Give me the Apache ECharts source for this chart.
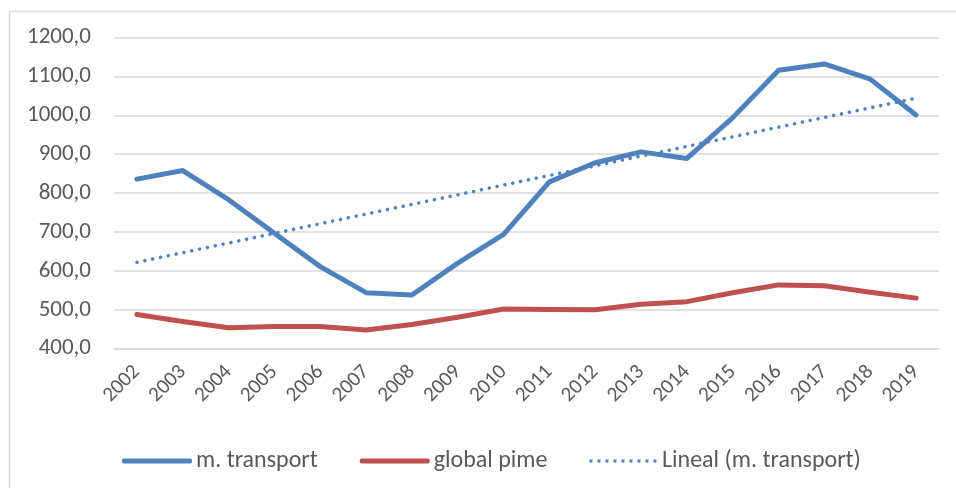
<!DOCTYPE html>
<html>
<head>
<meta charset="utf-8">
<script src="https://cdn.jsdelivr.net/npm/echarts@6/dist/echarts.min.js"></script>
<style>
html,body{margin:0;padding:0;background:#fff;}
#c{width:956px;height:488px;}
</style>
</head>
<body>
<div id="c"></div>
<script>
const years = ['2002','2003','2004','2005','2006','2007','2008','2009','2010','2011','2012','2013','2014','2015','2016','2017','2018','2019'];
const transport = [836, 858, 783, 697, 611, 544, 538, 620, 694, 829, 878, 906, 889, 994, 1116, 1132, 1093, 1001];
const globalPime = [488, 470, 454, 457, 457, 448, 462, 481, 502, 501, 500, 514, 521, 544, 564, 562, 545, 530];
const trendStart = 622;   // Lineal (m. transport) at 2002
const trendEnd = 1044;    // Lineal (m. transport) at 2019
const yTicks = { min: 400, max: 1200, step: 100 };

const trend = years.map((y, i) => i === 0 ? trendStart : (i === years.length - 1 ? trendEnd : null));

const BLUE = '#4F81BD', RED = '#C0504D';
const FONT = 'Carlito, Lato, "Liberation Sans", sans-serif';
// dotted legend sample: 9 dots
let dots = '';
for (let k = 0; k < 9; k++) { dots += 'M' + (k * 8) + ',0h3v3h-3z'; }

const chart = echarts.init(document.getElementById('c'), null, {renderer: 'canvas'});
chart.setOption({
  animation: false,
  backgroundColor: '#ffffff',
  graphic: [{
    type: 'rect', left: 7, top: 9, z: -10,
    shape: {width: 1000, height: 1000},
    style: {fill: 'none', stroke: '#d9d9d9', lineWidth: 1.5}
  }],
  grid: {left: 114, right: 17, top: 37.5, bottom: 139.3, containLabel: false},
  legend: {
    top: 444, left: 117,
    itemWidth: 68, itemHeight: 3, itemGap: 42,
    textStyle: {color: '#595959', fontSize: 24, fontFamily: FONT},
    data: [
      {name: 'm. transport', icon: 'roundRect', itemStyle: {color: BLUE, borderColor: BLUE, borderWidth: 2}},
      {name: 'global pime', icon: 'roundRect', itemStyle: {color: RED, borderColor: RED, borderWidth: 2}},
      {name: 'Lineal (m. transport)', icon: 'path://' + dots, itemStyle: {color: BLUE, borderWidth: 0}}
    ]
  },
  xAxis: {
    type: 'category', data: years, boundaryGap: true,
    axisLine: {show: true, lineStyle: {color: '#d9d9d9', width: 1.5}},
    axisTick: {show: false},
    axisLabel: {rotate: 45, color: '#595959', fontSize: 21, fontFamily: FONT, margin: 20, interval: 0}
  },
  yAxis: {
    type: 'value', min: yTicks.min, max: yTicks.max, interval: yTicks.step,
    axisLine: {show: false}, axisTick: {show: false},
    splitLine: {lineStyle: {color: '#d9d9d9', width: 1.5}},
    axisLabel: {color: '#595959', fontSize: 23, fontFamily: FONT, margin: 23,
      formatter: v => v.toFixed(1).replace('.', ',')}
  },
  series: [
    {name: 'm. transport', type: 'line', data: transport, symbol: 'none', showSymbol: false,
      lineStyle: {color: BLUE, width: 5, cap: 'round', join: 'round'}, itemStyle: {color: BLUE}},
    {name: 'global pime', type: 'line', data: globalPime, symbol: 'none', showSymbol: false,
      lineStyle: {color: RED, width: 5, cap: 'round', join: 'round'}, itemStyle: {color: RED}},
    {name: 'Lineal (m. transport)', type: 'line', data: trend, connectNulls: true, symbol: 'none', showSymbol: false,
      lineStyle: {color: BLUE, width: 3.5, type: [0.1, 7.9], cap: 'round'}, itemStyle: {color: BLUE}, z: 5}
  ]
});
</script>
</body>
</html>
